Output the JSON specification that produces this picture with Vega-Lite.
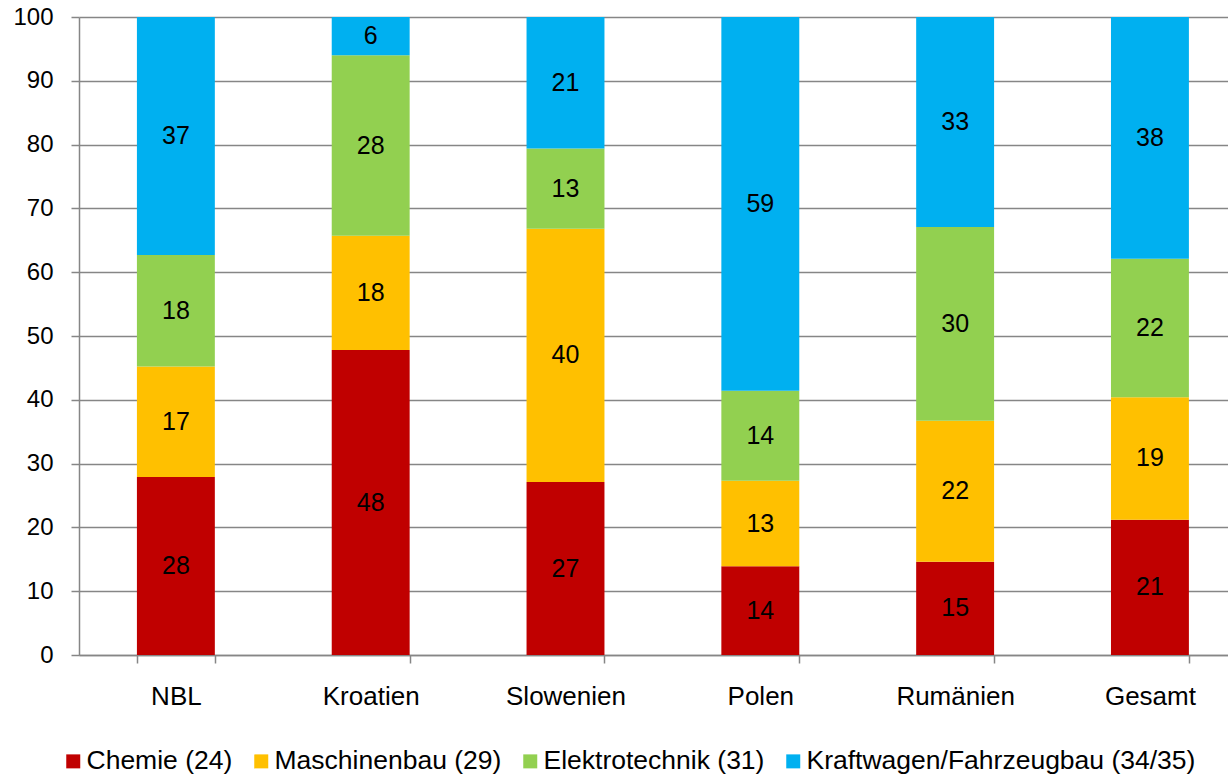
{
  "$schema": "https://vega.github.io/schema/vega-lite/v6.json",
  "width": 1149,
  "height": 638,
  "autosize": {"type": "none"},
  "padding": {"left": 79, "top": 17, "right": 0, "bottom": 122},
  "background": "white",
  "config": {"view": {"stroke": null}, "font": "Liberation Sans"},
  "data": {"values": [
    {"Land": "NBL", "Branche": "Chemie (24)", "Anteil": 27.9},
    {"Land": "NBL", "Branche": "Maschinenbau (29)", "Anteil": 17.3},
    {"Land": "NBL", "Branche": "Elektrotechnik (31)", "Anteil": 17.5},
    {"Land": "NBL", "Branche": "Kraftwagen/Fahrzeugbau (34/35)", "Anteil": 37.3},
    {"Land": "Kroatien", "Branche": "Chemie (24)", "Anteil": 47.8},
    {"Land": "Kroatien", "Branche": "Maschinenbau (29)", "Anteil": 17.9},
    {"Land": "Kroatien", "Branche": "Elektrotechnik (31)", "Anteil": 28.3},
    {"Land": "Kroatien", "Branche": "Kraftwagen/Fahrzeugbau (34/35)", "Anteil": 6.0},
    {"Land": "Slowenien", "Branche": "Chemie (24)", "Anteil": 27.1},
    {"Land": "Slowenien", "Branche": "Maschinenbau (29)", "Anteil": 39.7},
    {"Land": "Slowenien", "Branche": "Elektrotechnik (31)", "Anteil": 12.6},
    {"Land": "Slowenien", "Branche": "Kraftwagen/Fahrzeugbau (34/35)", "Anteil": 20.6},
    {"Land": "Polen", "Branche": "Chemie (24)", "Anteil": 13.9},
    {"Land": "Polen", "Branche": "Maschinenbau (29)", "Anteil": 13.4},
    {"Land": "Polen", "Branche": "Elektrotechnik (31)", "Anteil": 14.1},
    {"Land": "Polen", "Branche": "Kraftwagen/Fahrzeugbau (34/35)", "Anteil": 58.6},
    {"Land": "Rumänien", "Branche": "Chemie (24)", "Anteil": 14.6},
    {"Land": "Rumänien", "Branche": "Maschinenbau (29)", "Anteil": 22.1},
    {"Land": "Rumänien", "Branche": "Elektrotechnik (31)", "Anteil": 30.4},
    {"Land": "Rumänien", "Branche": "Kraftwagen/Fahrzeugbau (34/35)", "Anteil": 32.9},
    {"Land": "Gesamt", "Branche": "Chemie (24)", "Anteil": 21.2},
    {"Land": "Gesamt", "Branche": "Maschinenbau (29)", "Anteil": 19.2},
    {"Land": "Gesamt", "Branche": "Elektrotechnik (31)", "Anteil": 21.7},
    {"Land": "Gesamt", "Branche": "Kraftwagen/Fahrzeugbau (34/35)", "Anteil": 37.9}
  ]},
  "transform": [
    {"stack": "Anteil", "groupby": ["Land"], "sort": [], "as": ["a0", "a1"]}
  ],
  "encoding": {
    "x": {
      "field": "Land", "type": "nominal",
      "sort": ["NBL", "Kroatien", "Slowenien", "Polen", "Rumänien", "Gesamt"],
      "scale": {"paddingInner": 0.6, "paddingOuter": 0.249, "align": 0.597},
      "axis": {
        "title": null, "labelAngle": 0, "labelFontSize": 26, "labelColor": "#000000",
        "labelPadding": 20, "tickBand": "extent", "tickSize": 8, "tickColor": "#868686",
        "tickWidth": 1.5, "domainColor": "#868686", "domainWidth": 1.5, "grid": false
      }
    }
  },
  "layer": [
    {
      "mark": {"type": "bar"},
      "encoding": {
        "y": {
          "field": "a0", "type": "quantitative",
          "scale": {"domain": [0, 100], "nice": false},
          "axis": {
            "title": null, "values": [0, 10, 20, 30, 40, 50, 60, 70, 80, 90, 100],
            "labelFontSize": 24, "labelColor": "#000000", "labelPadding": 18,
            "tickSize": 8, "tickColor": "#868686", "tickWidth": 1.5,
            "domainColor": "#868686", "domainWidth": 1.5,
            "grid": true, "gridColor": "#868686", "gridWidth": 1.5
          }
        },
        "y2": {"field": "a1"},
        "color": {
          "field": "Branche", "type": "nominal",
          "scale": {
            "domain": ["Chemie (24)", "Maschinenbau (29)", "Elektrotechnik (31)", "Kraftwagen/Fahrzeugbau (34/35)"],
            "range": ["#C00000", "#FFC000", "#92D050", "#00B0F0"]
          },
          "legend": {
            "title": null, "orient": "none", "direction": "horizontal",
            "legendX": -19, "legendY": 731,
            "labelFontSize": 26.5, "labelColor": "#000000", "labelLimit": 0,
            "labelOffset": 0, "columnPadding": 15,
            "symbolType": "square", "symbolSize": 196, "symbolStrokeWidth": 0
          }
        }
      }
    },
    {
      "mark": {
        "type": "text", "baseline": "middle", "fontSize": 25, "color": "#000000",
        "dy": {"expr": "(scale('y', datum.a0) - scale('y', datum.a1)) / 2"}
      },
      "encoding": {
        "y": {"field": "a1", "type": "quantitative"},
        "text": {"field": "Anteil", "type": "quantitative", "format": ".0f"}
      }
    }
  ]
}
